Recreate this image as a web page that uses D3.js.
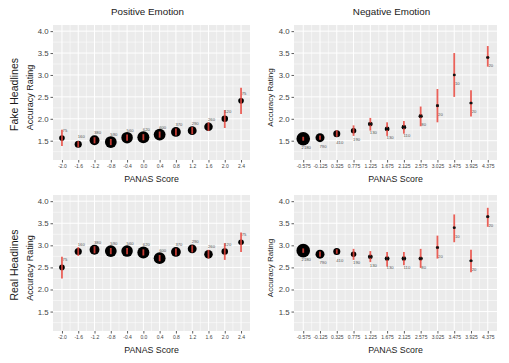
<!DOCTYPE html>
<html>
<head>
<meta charset="utf-8">
<script src="https://cdn.jsdelivr.net/npm/d3@7"></script>
<style>
  body { margin: 0; background: #fff; }
  svg { display: block; font-family: "Liberation Sans", Arial, sans-serif; }
</style>
</head>
<body>
<div id="chart"></div>
<script>
// PANAS score bins
const posScores = [-2.0, -1.6, -1.2, -0.8, -0.4, 0.0, 0.4, 0.8, 1.2, 1.6, 2.0, 2.4];
const posTickLabels = ['-2.0', '-1.6', '-1.2', '-0.8', '-0.4', '0.0', '0.4', '0.8', '1.2', '1.6', '2.0', '2.4'];
const negScores = [-0.575, -0.125, 0.325, 0.775, 1.225, 1.675, 2.125, 2.575, 3.025, 3.475, 3.925, 4.375];
const negTickLabels = ['-0.575', '-0.125', '0.325', '0.775', '1.225', '1.675', '2.125', '2.575', '3.025', '3.475', '3.925', '4.375'];
const yTicks = [1.5, 2.0, 2.5, 3.0, 3.5, 4.0];

// participants per bin
const posCounts = [75, 160, 380, 590, 560, 620, 600, 370, 290, 260, 120, 75];
const negCounts = [2180, 790, 410, 190, 130, 130, 110, 80, 20, 10, 20, 20];

// fake headlines
const fakePosMean = [1.56, 1.42, 1.51, 1.47, 1.57, 1.58, 1.64, 1.70, 1.73, 1.82, 2.00, 2.41];
const fakePosLo   = [1.38, 1.35, 1.44, 1.40, 1.50, 1.51, 1.57, 1.62, 1.65, 1.72, 1.79, 2.11];
const fakePosHi   = [1.75, 1.49, 1.58, 1.54, 1.64, 1.65, 1.71, 1.78, 1.81, 1.92, 2.20, 2.71];
const fakeNegMean = [1.545, 1.57, 1.66, 1.73, 1.88, 1.77, 1.81, 2.06, 2.30, 3.00, 2.36, 3.40];
const fakeNegLo   = [1.50, 1.52, 1.59, 1.61, 1.73, 1.61, 1.66, 1.83, 1.92, 2.50, 2.05, 3.19];
const fakeNegHi   = [1.59, 1.62, 1.74, 1.85, 2.02, 1.92, 1.95, 2.28, 2.68, 3.50, 2.65, 3.66];

// real headlines
const realPosMean = [2.50, 2.86, 2.90, 2.87, 2.87, 2.84, 2.71, 2.85, 2.92, 2.80, 2.86, 3.07];
const realPosLo   = [2.25, 2.76, 2.82, 2.80, 2.80, 2.77, 2.64, 2.77, 2.84, 2.70, 2.67, 2.85];
const realPosHi   = [2.74, 2.96, 2.98, 2.94, 2.94, 2.91, 2.78, 2.93, 3.00, 2.90, 3.05, 3.29];
const realNegMean = [2.88, 2.80, 2.86, 2.80, 2.74, 2.70, 2.70, 2.70, 2.95, 3.40, 2.65, 3.65];
const realNegLo   = [2.83, 2.74, 2.81, 2.67, 2.62, 2.52, 2.55, 2.49, 2.70, 3.07, 2.39, 3.42];
const realNegHi   = [2.93, 2.86, 2.91, 2.92, 2.87, 2.85, 2.85, 2.92, 3.22, 3.70, 2.90, 3.85];

const width = 509, height = 363;
const yLimits = [1.2, 4.0];

const svg = d3.select('#chart').append('svg')
  .attr('width', width)
  .attr('height', height)
  .attr('viewBox', [0, 0, width, height]);

const panels = [
  { box: [53, 250, 25, 160], scores: posScores, labels: posTickLabels, counts: posCounts,
    mean: fakePosMean, lo: fakePosLo, hi: fakePosHi, nDy: -6, rRange: [2.8, 6],
    title: 'Positive Emotion', group: 'Fake Headlines', groupX: 14, ylabX: 30, ylabSize: 9 },
  { box: [294, 497, 25, 160], scores: negScores, labels: negTickLabels, counts: negCounts,
    mean: fakeNegMean, lo: fakeNegLo, hi: fakeNegHi, nDy: 10, rRange: [1.4, 6.8],
    title: 'Negative Emotion', ylabX: 270, ylabSize: 8 },
  { box: [53, 250, 195, 331], scores: posScores, labels: posTickLabels, counts: posCounts,
    mean: realPosMean, lo: realPosLo, hi: realPosHi, nDy: -6, rRange: [2.8, 6],
    group: 'Real Headlines', groupX: 14, ylabX: 30, ylabSize: 9 },
  { box: [294, 497, 195, 331], scores: negScores, labels: negTickLabels, counts: negCounts,
    mean: realNegMean, lo: realNegLo, hi: realNegHi, nDy: 10, rRange: [1.4, 6.8],
    ylabX: 270, ylabSize: 8 }
];

function drawPanel(p) {
  const [x0, x1, y0, y1] = p.box;
  const xMin = d3.min(p.scores), xMax = d3.max(p.scores);
  const xPad = (xMax - xMin) * 0.05;
  const yPad = (yLimits[1] - yLimits[0]) * 0.05;

  const x = d3.scaleLinear().domain([xMin - xPad, xMax + xPad]).range([x0, x1]);
  const y = d3.scaleLinear().domain([yLimits[0] - yPad, yLimits[1] + yPad]).range([y1, y0]);
  const r = d3.scaleSqrt().domain(d3.extent(p.counts)).range(p.rRange);

  const g = svg.append('g');

  g.append('rect')
    .attr('x', x0).attr('y', y0)
    .attr('width', x1 - x0).attr('height', y1 - y0)
    .attr('fill', '#EBEBEB');

  // minor grid (midpoints between breaks)
  const yMinor = d3.pairs(yTicks, (a, b) => (a + b) / 2);
  yMinor.unshift(yTicks[0] - 0.25);
  const xMinor = d3.pairs(p.scores, (a, b) => (a + b) / 2);

  g.selectAll('.ymin').data(yMinor).join('line')
    .attr('x1', x0).attr('x2', x1)
    .attr('y1', d => y(d)).attr('y2', d => y(d))
    .attr('stroke', '#fff').attr('stroke-width', 0.5);
  g.selectAll('.xmin').data(xMinor).join('line')
    .attr('y1', y0).attr('y2', y1)
    .attr('x1', d => x(d)).attr('x2', d => x(d))
    .attr('stroke', '#fff').attr('stroke-width', 0.5);

  // major grid
  g.selectAll('.ymaj').data(yTicks).join('line')
    .attr('x1', x0).attr('x2', x1)
    .attr('y1', d => y(d)).attr('y2', d => y(d))
    .attr('stroke', '#fff').attr('stroke-width', 1);
  g.selectAll('.xmaj').data(p.scores).join('line')
    .attr('y1', y0).attr('y2', y1)
    .attr('x1', d => x(d)).attr('x2', d => x(d))
    .attr('stroke', '#fff').attr('stroke-width', 1);

  // axes
  const yAxis = g.append('g')
    .attr('transform', `translate(${x0},0)`)
    .call(d3.axisLeft(y).tickValues(yTicks).tickFormat(d3.format('.1f')).tickSize(2.5).tickPadding(2));
  yAxis.select('.domain').remove();
  yAxis.selectAll('line').attr('stroke', '#333').attr('stroke-width', 0.8);
  yAxis.selectAll('text').attr('fill', '#444').style('font-size', '7.8px');

  const xAxis = g.append('g')
    .attr('transform', `translate(0,${y1})`)
    .call(d3.axisBottom(x).tickValues(p.scores).tickFormat((d, i) => p.labels[i]).tickSize(2.5).tickPadding(1.5));
  xAxis.select('.domain').remove();
  xAxis.selectAll('line').attr('stroke', '#333').attr('stroke-width', 0.8);
  xAxis.selectAll('text').attr('fill', '#444').style('font-size', '5px');

  // points + error bars
  const rows = p.scores.map((s, i) => ({ s, n: p.counts[i], m: p.mean[i], lo: p.lo[i], hi: p.hi[i] }));

  g.selectAll('.pt').data(rows).join('circle')
    .attr('cx', d => x(d.s)).attr('cy', d => y(d.m))
    .attr('r', d => r(d.n))
    .attr('fill', '#000');

  g.selectAll('.err').data(rows).join('line')
    .attr('x1', d => x(d.s)).attr('x2', d => x(d.s))
    .attr('y1', d => y(d.lo)).attr('y2', d => y(d.hi))
    .attr('stroke', '#E8453C').attr('stroke-width', 1.8).attr('stroke-opacity', 0.85);

  g.selectAll('.ctr').data(rows.filter(d => r(d.n) < 2.5)).join('circle')
    .attr('cx', d => x(d.s)).attr('cy', d => y(d.m))
    .attr('r', 1.3).attr('fill', '#111');

  g.selectAll('.nlab').data(rows).join('text')
    .attr('x', d => x(d.s) + 3).attr('y', d => y(d.m) + p.nDy)
    .attr('text-anchor', 'middle')
    .attr('fill', '#555')
    .style('font-size', '4.2px')
    .text(d => d.n);

  // titles
  g.append('text')
    .attr('x', (x0 + x1) / 2).attr('y', y1 + 22)
    .attr('text-anchor', 'middle').attr('fill', '#1a1a1a')
    .style('font-size', '8.8px')
    .text('PANAS Score');

  const midY = (y0 + y1) / 2 + 5;
  g.append('text')
    .attr('transform', `translate(${p.ylabX},${midY}) rotate(-90)`)
    .attr('text-anchor', 'middle').attr('dy', '0.35em').attr('fill', '#1a1a1a')
    .style('font-size', `${p.ylabSize}px`)
    .text('Accuracy Rating');

  if (p.group) {
    g.append('text')
      .attr('transform', `translate(${p.groupX},${midY - 3}) rotate(-90)`)
      .attr('text-anchor', 'middle').attr('dy', '0.35em').attr('fill', '#1a1a1a')
      .style('font-size', '10.5px')
      .text(p.group);
  }

  if (p.title) {
    g.append('text')
      .attr('x', (x0 + x1) / 2 - 4).attr('y', 15)
      .attr('text-anchor', 'middle').attr('fill', '#1a1a1a')
      .style('font-size', '9.8px')
      .text(p.title);
  }
}

panels.forEach(drawPanel);
</script>
</body>
</html>
